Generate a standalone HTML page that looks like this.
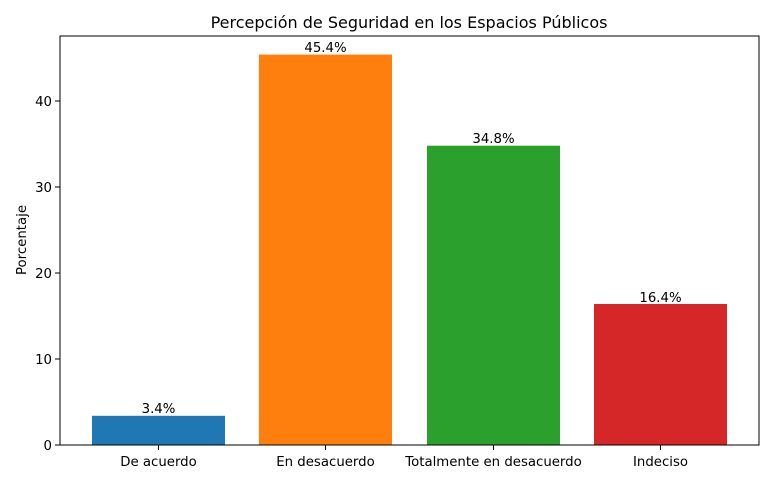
<!DOCTYPE html>
<html><head><meta charset="utf-8"><style>body{margin:0;background:#fff}</style></head><body>
<svg width="774" height="483" xmlns="http://www.w3.org/2000/svg" font-family="DejaVu Sans, sans-serif">
<rect width="774" height="483" fill="#fff"/>
<text x="409" y="28" font-size="16" text-anchor="middle" fill="#000">Percepción de Seguridad en los Espacios Públicos</text>
<rect x="92" y="415.8" width="133" height="29.2" fill="#1f77b4"/>
<rect x="259" y="54.6" width="133" height="390.4" fill="#ff7f0e"/>
<rect x="427" y="145.7" width="133" height="299.3" fill="#2ca02c"/>
<rect x="594" y="304" width="133" height="141" fill="#d62728"/>
<g font-size="13.3" text-anchor="middle" fill="#000">
<text x="158.5" y="413">3.4%</text>
<text x="325.5" y="52">45.4%</text>
<text x="493.5" y="143">34.8%</text>
<text x="660.5" y="302">16.4%</text>
</g>
<rect x="60" y="36" width="699" height="409" fill="none" stroke="#000" stroke-width="1"/>
<g stroke="#000">
<line x1="55" y1="445" x2="60" y2="445"/><line x1="55" y1="359" x2="60" y2="359"/>
<line x1="55" y1="273" x2="60" y2="273"/><line x1="55" y1="187" x2="60" y2="187"/>
<line x1="55" y1="101" x2="60" y2="101"/>
<line x1="158.5" y1="445" x2="158.5" y2="450"/><line x1="325.5" y1="445" x2="325.5" y2="450"/>
<line x1="493.5" y1="445" x2="493.5" y2="450"/><line x1="660.5" y1="445" x2="660.5" y2="450"/>
</g>
<g font-size="13.3" text-anchor="end" fill="#000">
<text x="52" y="450">0</text><text x="52" y="364">10</text><text x="52" y="278">20</text>
<text x="52" y="192">30</text><text x="52" y="106">40</text>
</g>
<g font-size="13.3" text-anchor="middle" fill="#000">
<text x="158.5" y="466">De acuerdo</text><text x="325.5" y="466">En desacuerdo</text>
<text x="493.5" y="466">Totalmente en desacuerdo</text><text x="660.5" y="466">Indeciso</text>
</g>
<text transform="translate(26,240) rotate(-90)" font-size="13.3" text-anchor="middle" fill="#000">Porcentaje</text>
</svg>
</body></html>
